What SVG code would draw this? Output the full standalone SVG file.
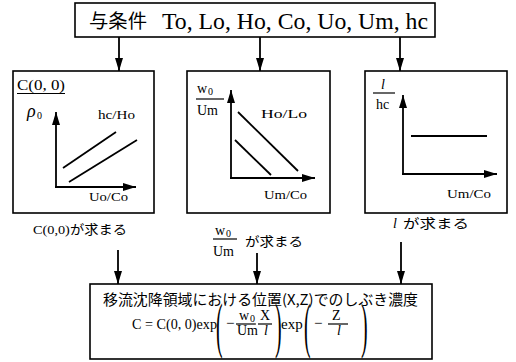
<svg xmlns="http://www.w3.org/2000/svg" width="516" height="362" viewBox="0 0 516 362">
<style>
text{font-family:"Liberation Serif","Noto Sans CJK JP",serif;fill:#000}
.jp{font-family:"Noto Sans CJK JP","Liberation Serif",sans-serif}
.box{fill:#fff;stroke:#000;stroke-width:1.6}
.ln{stroke:#000;stroke-width:1.8;fill:none}
.bar{stroke:#000;stroke-width:1.2}
.it{font-style:italic}
.par{font-size:62px}
</style>
<defs>
<marker id="ah" markerWidth="13" markerHeight="8" refX="13" refY="4" orient="auto" markerUnits="userSpaceOnUse">
<path d="M0,0 L13,4 L0,8 Z" fill="#000"/>
</marker>
</defs>
<rect width="516" height="362" fill="#fff"/>

<g id="given">
<rect class="box" x="75" y="3" width="360" height="34"/>
<text class="jp" x="89" y="28" font-size="19" textLength="58" lengthAdjust="spacingAndGlyphs">与条件</text>
<text x="162" y="29" font-size="23" textLength="266" lengthAdjust="spacingAndGlyphs">To, Lo, Ho, Co, Uo, Um, hc</text>
</g>

<g id="chart1">
<rect class="box" x="13" y="71" width="141" height="142"/>
<text x="17" y="90" font-size="14" textLength="48" lengthAdjust="spacingAndGlyphs">C(0, 0)</text>
<line class="bar" x1="17" y1="93.5" x2="65" y2="93.5"/>
<text class="it" x="27" y="117" font-size="18">ρ</text>
<text x="37" y="119" font-size="10">0</text>
<text x="98" y="119" font-size="13" textLength="37" lengthAdjust="spacingAndGlyphs">hc/Ho</text>
<text x="89" y="201" font-size="13" textLength="39" lengthAdjust="spacingAndGlyphs">Uo/Co</text>
<line class="ln" x1="56" y1="187" x2="56" y2="112" marker-end="url(#ah)"/>
<line class="ln" x1="55" y1="187" x2="136" y2="187" marker-end="url(#ah)"/>
<line class="ln" x1="63" y1="168" x2="116" y2="132"/>
<line class="ln" x1="69" y1="182" x2="137" y2="140"/>
</g>

<g id="chart2">
<rect class="box" x="187" y="71" width="143" height="142"/>
<text x="197" y="93" font-size="14">w</text>
<text x="208" y="95" font-size="10">0</text>
<line class="bar" x1="196" y1="99" x2="224" y2="99"/>
<text x="197" y="115" font-size="14">Um</text>
<text x="261" y="118" font-size="13" textLength="46" lengthAdjust="spacingAndGlyphs">Ho/Lo</text>
<text x="264" y="199" font-size="13" textLength="43" lengthAdjust="spacingAndGlyphs">Um/Co</text>
<line class="ln" x1="231" y1="178" x2="231" y2="90" marker-end="url(#ah)"/>
<line class="ln" x1="230" y1="178" x2="315" y2="178" marker-end="url(#ah)"/>
<line class="ln" x1="238" y1="112" x2="298" y2="171"/>
<line class="ln" x1="235" y1="140" x2="271" y2="175"/>
</g>

<g id="chart3">
<rect class="box" x="365" y="71" width="142" height="142"/>
<text class="it" x="381" y="89" font-size="14">l</text>
<line class="bar" x1="373" y1="93" x2="395" y2="93"/>
<text x="376" y="109" font-size="14">hc</text>
<text x="447" y="198" font-size="13" textLength="44" lengthAdjust="spacingAndGlyphs">Um/Co</text>
<line class="ln" x1="403" y1="174" x2="403" y2="95" marker-end="url(#ah)"/>
<line class="ln" x1="402" y1="174" x2="497" y2="174" marker-end="url(#ah)"/>
<line class="ln" x1="411" y1="136" x2="487" y2="136"/>
</g>

<g id="label1">
<text x="33" y="234" font-size="13" textLength="94" lengthAdjust="spacingAndGlyphs">C(0,0)が求まる</text>
</g>
<g id="label2">
<text x="215" y="235" font-size="14">w</text>
<text x="226" y="237" font-size="10">0</text>
<line class="bar" x1="213" y1="239" x2="237" y2="239"/>
<text x="213" y="256" font-size="14">Um</text>
<text class="jp" x="245" y="246" font-size="13" textLength="58" lengthAdjust="spacingAndGlyphs">が求まる</text>
</g>
<g id="label3">
<text class="it" x="393" y="228" font-size="14">l</text>
<text class="jp" x="403" y="228" font-size="13" textLength="66" lengthAdjust="spacingAndGlyphs">が求まる</text>
</g>

<g id="connectors">
<line class="ln" x1="119" y1="37" x2="119" y2="71" marker-end="url(#ah)"/>
<line class="ln" x1="260" y1="37" x2="260" y2="71" marker-end="url(#ah)"/>
<line class="ln" x1="400" y1="37" x2="400" y2="71" marker-end="url(#ah)"/>
<line class="ln" x1="118" y1="250" x2="118" y2="284" marker-end="url(#ah)"/>
<line class="ln" x1="257" y1="253" x2="257" y2="284" marker-end="url(#ah)"/>
<line class="ln" x1="401" y1="242" x2="401" y2="284" marker-end="url(#ah)"/>
</g>

<g id="result">
<rect class="box" x="90" y="284" width="342" height="75"/>
<text class="jp" x="103" y="305" font-size="14.5" textLength="315" lengthAdjust="spacingAndGlyphs">移流沈降領域における位置(X,Z)でのしぶき濃度</text>
<text x="132" y="329" font-size="15" textLength="85" lengthAdjust="spacingAndGlyphs">C = C(0, 0)exp</text>
<text class="par" transform="translate(216,346) scale(0.32,1)">(</text>
<text x="226" y="328" font-size="15">−</text>
<text x="239" y="320" font-size="14">w</text>
<text x="250" y="322" font-size="10">0</text>
<line class="bar" x1="236" y1="324" x2="256" y2="324"/>
<text x="237" y="335" font-size="14">Um</text>
<text x="260" y="320" font-size="14">X</text>
<line class="bar" x1="258" y1="324" x2="272" y2="324"/>
<text class="it" x="264" y="335" font-size="14">l</text>
<text class="par" transform="translate(275,346) scale(0.32,1)">)</text>
<text x="281" y="329" font-size="15">exp</text>
<text class="par" transform="translate(304,346) scale(0.32,1)">(</text>
<text x="314" y="328" font-size="15">−</text>
<text x="332" y="320" font-size="14">Z</text>
<line class="bar" x1="328" y1="324" x2="348" y2="324"/>
<text class="it" x="337" y="335" font-size="14">l</text>
<text class="par" transform="translate(361,346) scale(0.32,1)">)</text>
</g>
</svg>
